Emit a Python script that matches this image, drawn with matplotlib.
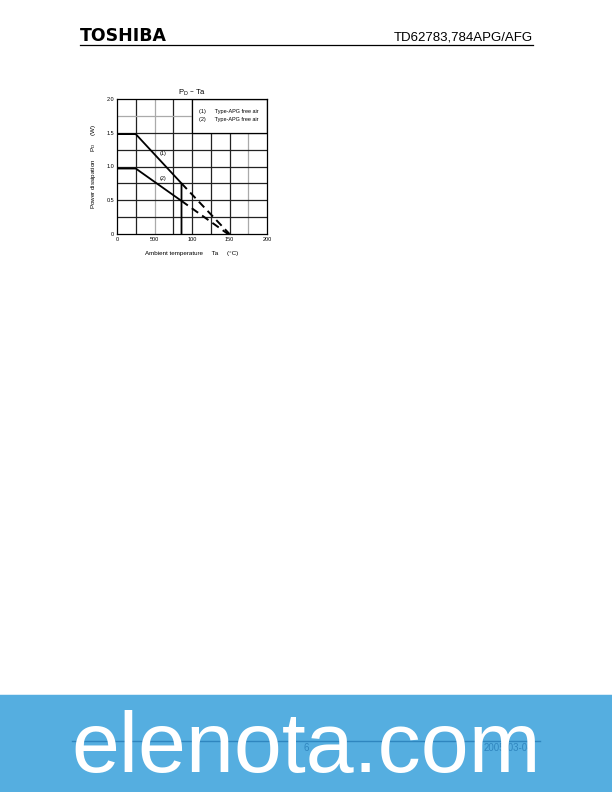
import matplotlib.pyplot as plt
from matplotlib.patches import Rectangle

plt.rcParams['font.family'] = ['Liberation Sans', 'DejaVu Sans']

# curve (1) and (2)
ta1 = [0, 25, 86, 86]
pd1 = [1.48, 1.48, 0.75, 0.0]
ta1_dash = [86, 150]
pd1_dash = [0.75, 0.0]

ta2 = [0, 25, 86]
pd2 = [0.97, 0.97, 0.49]
ta2_dash = [86, 148]
pd2_dash = [0.49, 0.0]

xticks = [0, 50, 100, 150, 200]
xticklabels = ["0", "500", "100", "150", "200"]
yticks = [0, 0.5, 1.0, 1.5, 2.0]
yticklabels = ["0", "0.5", "1.0", "1.5", "2.0"]
legend_lines = ["(1)      Type-APG free air", "(2)      Type-APG free air"]

fig = plt.figure(figsize=(6.12, 7.92), dpi=100)

# page header
fig.text(80 / 612, 1 - 36 / 792, "TOSHIBA", fontsize=12.5, fontweight="heavy",
         va="center", ha="left", family="DejaVu Sans")
fig.text(533 / 612, 1 - 37 / 792, "TD62783,784APG/AFG", fontsize=9.5,
         va="center", ha="right")
fig.add_artist(plt.Line2D([80 / 612, 533 / 612], [1 - 45 / 792, 1 - 45 / 792],
                          color="black", lw=0.9))

# chart
ax = fig.add_axes([117 / 612, 1 - 234 / 792, 150 / 612, 135 / 792])
ax.set_xlim(0, 200)
ax.set_ylim(0, 2.0)

for x in [25, 50, 75, 100, 125, 150, 175]:
    c = "#aaaaaa" if x in (50, 175) else "#222222"
    ax.axvline(x, color=c, lw=0.9, zorder=1)
for y in [0.25, 0.5, 0.75, 1.0, 1.25, 1.5, 1.75]:
    c = "#aaaaaa" if y == 1.75 else "#222222"
    ax.axhline(y, color=c, lw=0.9, zorder=1)

ax.add_patch(Rectangle((100, 1.5), 100, 0.5, facecolor="white",
                       edgecolor="black", lw=0.9, zorder=2))
ax.text(109, 1.81, legend_lines[0], fontsize=4, va="center", zorder=3)
ax.text(109, 1.69, legend_lines[1], fontsize=4, va="center", zorder=3)

ax.plot(ta1, pd1, color="black", lw=1.3, zorder=4)
ax.plot(ta1_dash, pd1_dash, color="black", lw=1.4, ls=(0, (4, 2.5)), zorder=4)
ax.plot(ta2, pd2, color="black", lw=1.3, zorder=4)
ax.plot(ta2_dash, pd2_dash, color="black", lw=1.4, ls=(0, (4, 2.5)), zorder=4)
ax.text(61, 1.19, "(1)", fontsize=4, ha="center", va="center", zorder=3)
ax.text(61, 0.82, "(2)", fontsize=4, ha="center", va="center", zorder=3)

ax.set_xticks(xticks)
ax.set_xticklabels(xticklabels, fontsize=4)
ax.set_yticks(yticks)
ax.set_yticklabels(yticklabels, fontsize=4)
ax.tick_params(length=0, pad=2)
for s in ax.spines.values():
    s.set_linewidth(0.9)

ax.set_title("P$_\\mathregular{D}$ – Ta", fontsize=5.5, pad=3)
ax.set_xlabel("Ambient temperature     Ta     (°C)", fontsize=4.5, labelpad=7)
ax.set_ylabel("Power dissipation     P$_\\mathregular{D}$     (W)", fontsize=4.5, labelpad=6)

# footer band
fig.add_artist(Rectangle((0, 0), 1, 97 / 792, transform=fig.transFigure,
                         facecolor="#55aee0", edgecolor="none"))
fig.add_artist(Rectangle((0, 97 / 792), 1, 1.5 / 792, transform=fig.transFigure,
                         facecolor="#d8ecf8", edgecolor="none"))
fig.add_artist(plt.Line2D([72 / 612, 540 / 612], [1 - 741 / 792, 1 - 741 / 792],
                          color="#2f86bf", lw=1))
fig.text(306 / 612, 1 - 748 / 792, "6", fontsize=7, color="#2f86bf",
         ha="center", va="center")
fig.text(533 / 612, 1 - 748 / 792, "2005-03-04", fontsize=7, color="#2f86bf",
         ha="right", va="center")
fig.text(306 / 612, 1 - 750 / 792, "elenota.com", fontsize=62, color="white",
         ha="center", va="center")

fig.savefig("out.png", dpi=100)
